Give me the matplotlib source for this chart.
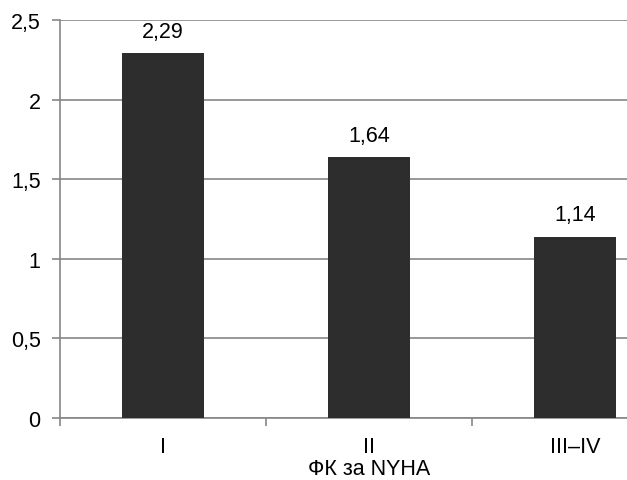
import matplotlib
matplotlib.use("Agg")
import matplotlib.pyplot as plt
import numpy as np

categories = ["I", "II", "III–IV"]
values = [2.29, 1.64, 1.14]
y_ticks = [0, 0.5, 1, 1.5, 2, 2.5]

plt.rcParams["font.family"] = ["Liberation Sans", "DejaVu Sans"]

grey = "#868686"
fig = plt.figure(figsize=(6.27, 4.81), dpi=100)
# the source chart is cropped on the right, so the axes run past the figure edge
ax = fig.add_axes([60 / 627, 62 / 481, 618 / 627, 398 / 481])

x = np.arange(len(categories))
ax.bar(x, values, width=0.4, color="#2d2d2d", zorder=3)

for xi, v in zip(x, values):
    ax.annotate(f"{v:.2f}".replace(".", ","), (xi, v), xytext=(0, 8),
                textcoords="offset points", ha="center", va="bottom", fontsize=15.5)

ax.set_xlim(-0.5, len(categories) - 0.5)
ax.set_ylim(0, 2.5)
ax.set_yticks(y_ticks)
ax.set_yticklabels([f"{t:g}".replace(".", ",") for t in y_ticks])
ax.yaxis.grid(True, color=grey, linewidth=1.2, zorder=0)

ax.set_xticks(x)
ax.set_xticklabels(categories)
ax.set_xticks(np.arange(len(categories) + 1) - 0.5, minor=True)
ax.tick_params(axis="x", which="major", length=0, pad=13, labelsize=15.5)
ax.tick_params(axis="x", which="minor", length=6, color=grey, width=1.2)
ax.tick_params(axis="y", length=6, color=grey, width=1.2, labelsize=15.5, pad=8)

for s in ["top", "right"]:
    ax.spines[s].set_visible(False)
for s in ["left", "bottom"]:
    ax.spines[s].set_color(grey)
    ax.spines[s].set_linewidth(1.2)

ax.set_xlabel("ФК за NYHA", fontsize=15.5, labelpad=1)

fig.savefig("out.png", dpi=100)
